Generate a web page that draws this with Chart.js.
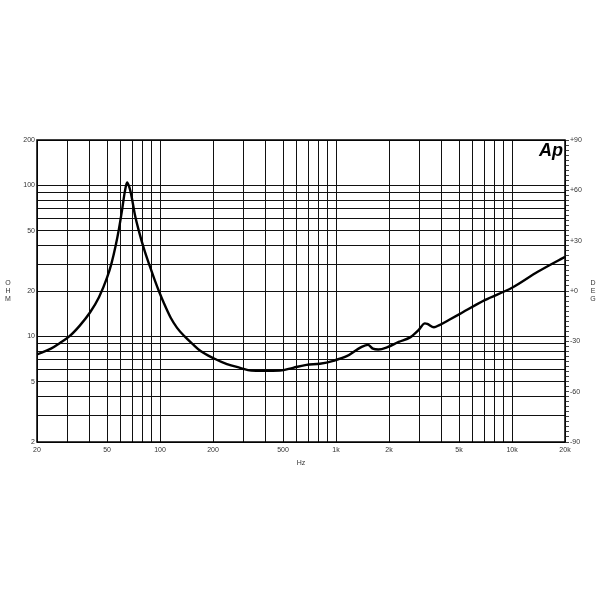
<!DOCTYPE html>
<html>
<head>
<meta charset="utf-8">
<script src="https://cdn.jsdelivr.net/npm/chart.js@4"></script>
<style>
  body { margin: 0; background: #fff; }
  #wrap { width: 600px; height: 600px; }
</style>
</head>
<body>
<div id="wrap"><canvas id="impChart"></canvas></div>
<script>
"use strict";

// impedance curve (Hz / ohm)
var freqs = [20, 24, 27, 30.5, 35, 40, 45, 50, 53, 56, 58.5, 61, 63, 65, 67, 69, 72, 76, 81, 87.5, 93, 98.5, 105, 115, 125, 138, 155, 170, 200, 240, 285, 330, 385, 480, 570, 680, 810, 965, 1150, 1390, 1520, 1620, 1740, 1960, 2270, 2650, 2940, 3200, 3300, 3600, 3870, 4400, 5000, 7000, 10000, 14000, 20000];
var ohms = [7.6, 8.3, 9.05, 10, 11.8, 14.4, 18.2, 24.5, 30.5, 40, 52, 70, 90, 104.5, 97, 84, 64, 49.5, 38.2, 29.2, 23.9, 20, 16.7, 13.3, 11.4, 10, 8.8, 8, 7.2, 6.56, 6.2, 5.94, 5.92, 5.94, 6.2, 6.48, 6.6, 6.9, 7.4, 8.5, 8.8, 8.3, 8.2, 8.5, 9.2, 9.9, 11, 12.2, 12.1, 11.5, 11.9, 12.9, 14, 17.4, 21, 26.8, 33.7];

// grid and tick labels
var xGrid = [20, 30, 40, 50, 60, 70, 80, 90, 100, 200, 300, 400, 500, 600, 700, 800, 900, 1000, 2000, 3000, 4000, 5000, 6000, 7000, 8000, 9000, 10000, 20000];
var xLabels = { 20: "20", 50: "50", 100: "100", 200: "200", 500: "500", 1000: "1k", 2000: "2k", 5000: "5k", 10000: "10k", 20000: "20k" };
var yGrid = [2, 3, 4, 5, 6, 7, 8, 9, 10, 20, 30, 40, 50, 60, 70, 80, 90, 100, 200];
var yLabels = [2, 5, 10, 20, 50, 100, 200];
var degLabels = [-90, -60, -30, 0, 30, 60, 90];

var pts = [];
freqs.forEach(function (f, i) {
  pts.push({ x: f, y: ohms[i] });
});

var tickFont = { family: "Liberation Sans", size: 7 };

// extra texts: axis titles and logo
var extras = {
  id: "extras",
  afterDraw: function (chart) {
    var ctx = chart.ctx;
    var a = chart.chartArea;
    ctx.save();
    ctx.fillStyle = "#333";
    ctx.font = "7px Liberation Sans";
    ctx.textAlign = "center";
    ctx.textBaseline = "middle";
    ["O", "H", "M"].forEach(function (c, i) { ctx.fillText(c, 8, 283 + i * 8); });
    ["D", "E", "G"].forEach(function (c, i) { ctx.fillText(c, 593, 283 + i * 8); });
    ctx.fillText("Hz", (a.left + a.right) / 2, 463);
    ctx.fillStyle = "#000";
    ctx.font = "italic bold 18px Liberation Sans";
    ctx.textAlign = "right";
    ctx.fillText("Ap", a.right - 2, 151);
    // frame
    ctx.strokeStyle = "#000";
    ctx.lineWidth = 1.5;
    ctx.strokeRect(a.left, a.top, a.right - a.left, a.bottom - a.top);
    ctx.restore();
  }
};

new Chart(document.getElementById("impChart").getContext("2d"), {
  type: "line",
  data: {
    datasets: [{
      data: pts,
      borderColor: "#000",
      borderWidth: 2.4,
      pointRadius: 0,
      cubicInterpolationMode: "monotone",
      yAxisID: "y"
    }]
  },
  options: {
    responsive: true,
    maintainAspectRatio: false,
    animation: false,
    layout: { padding: { top: 140, bottom: 128, left: 0, right: 0 } },
    plugins: { legend: { display: false }, tooltip: { enabled: false } },
    scales: {
      x: {
        type: "logarithmic",
        min: 20,
        max: 20000,
        afterBuildTicks: function (s) { s.ticks = xGrid.map(function (v) { return { value: v }; }); },
        afterFit: function (s) { s.height = 30; },
        grid: { color: "#111", lineWidth: 1, drawTicks: false },
        border: { display: false },
        ticks: {
          autoSkip: false, maxRotation: 0, padding: 4, color: "#333", font: tickFont,
          callback: function (v) { return xLabels[v] || ""; }
        }
      },
      y: {
        type: "logarithmic",
        position: "left",
        min: 2,
        max: 200,
        afterBuildTicks: function (s) { s.ticks = yGrid.map(function (v) { return { value: v }; }); },
        afterFit: function (s) { s.width = 37; },
        grid: { color: "#111", lineWidth: 1, drawTicks: false },
        border: { display: false },
        ticks: {
          autoSkip: false, padding: 2, color: "#333", font: tickFont,
          callback: function (v) { return yLabels.indexOf(v) >= 0 ? String(v) : ""; }
        }
      },
      deg: {
        type: "linear",
        position: "right",
        min: -90,
        max: 90,
        afterFit: function (s) { s.width = 35; },
        grid: { drawOnChartArea: false, color: "#444", tickLength: 4 },
        border: { display: false },
        ticks: {
          stepSize: 3, autoSkip: false, padding: 1, color: "#333", font: tickFont,
          callback: function (v) {
            if (degLabels.indexOf(v) < 0) return "";
            return v >= 0 ? "+" + v : String(v);
          }
        }
      }
    }
  },
  plugins: [extras]
});
</script>
</body>
</html>
